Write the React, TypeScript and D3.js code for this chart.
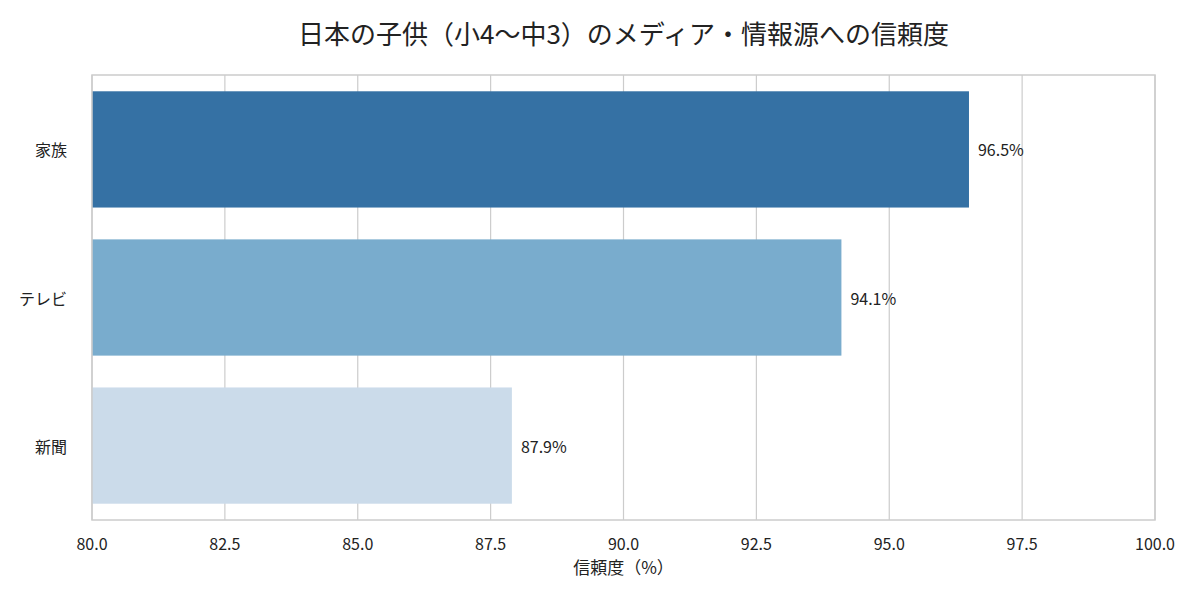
import { useEffect, useRef } from "react";
import * as d3 from "d3";

const categories = ["家族", "テレビ", "新聞"];
const values = [96.5, 94.1, 87.9];
const barColors = ["#3571a4", "#79accd", "#cbdbea"];
const xTicks = [80, 82.5, 85, 87.5, 90, 92.5, 95, 97.5, 100];

const W = 1200;
const H = 600;
const margin = { top: 75, right: 45, bottom: 80, left: 92 };
const FONT = "'Noto Sans CJK JP', 'Noto Sans', sans-serif";

const App = () => {
  const ref = useRef<SVGSVGElement>(null);

  useEffect(() => {
    if (!ref.current) return;
    const svg = d3.select(ref.current);
    svg.selectAll("*").remove();

    const x = d3.scaleLinear().domain([80, 100]).range([margin.left, W - margin.right]);
    const y = d3
      .scaleBand<string>()
      .domain(categories)
      .range([margin.top, H - margin.bottom])
      .paddingInner(0.215)
      .paddingOuter(0.11);

    svg.append("rect").attr("width", W).attr("height", H).attr("fill", "#fff");

    // grid
    svg
      .append("g")
      .selectAll("line")
      .data(xTicks)
      .enter()
      .append("line")
      .attr("x1", (d) => x(d))
      .attr("x2", (d) => x(d))
      .attr("y1", margin.top)
      .attr("y2", H - margin.bottom)
      .attr("stroke", "#cccccc")
      .attr("stroke-width", 1.2);

    // bars
    svg
      .append("g")
      .selectAll("rect")
      .data(categories)
      .enter()
      .append("rect")
      .attr("x", x(80))
      .attr("y", (d) => y(d)!)
      .attr("width", (_, i) => x(values[i]) - x(80))
      .attr("height", y.bandwidth())
      .attr("fill", (_, i) => barColors[i]);

    // value labels
    svg
      .append("g")
      .selectAll("text")
      .data(categories)
      .enter()
      .append("text")
      .attr("x", (_, i) => x(values[i]) + 9)
      .attr("y", (d) => y(d)! + y.bandwidth() / 2)
      .attr("dominant-baseline", "central")
      .attr("font-size", 16)
      .attr("font-family", FONT)
      .attr("fill", "#222")
      .text((_, i) => `${values[i].toFixed(1)}%`);

    // frame
    svg
      .append("rect")
      .attr("x", margin.left)
      .attr("y", margin.top)
      .attr("width", W - margin.right - margin.left)
      .attr("height", H - margin.bottom - margin.top)
      .attr("fill", "none")
      .attr("stroke", "#cccccc")
      .attr("stroke-width", 1.5);

    // x tick labels
    svg
      .append("g")
      .selectAll("text")
      .data(xTicks)
      .enter()
      .append("text")
      .attr("x", (d) => x(d))
      .attr("y", H - margin.bottom + 30)
      .attr("text-anchor", "middle")
      .attr("font-size", 16)
      .attr("font-family", FONT)
      .attr("fill", "#222")
      .text((d) => d.toFixed(1));

    // y tick labels
    svg
      .append("g")
      .selectAll("text")
      .data(categories)
      .enter()
      .append("text")
      .attr("x", margin.left - 25)
      .attr("y", (d) => y(d)! + y.bandwidth() / 2)
      .attr("text-anchor", "end")
      .attr("dominant-baseline", "central")
      .attr("font-size", 16)
      .attr("font-family", FONT)
      .attr("fill", "#222")
      .text((d) => d);

    // axis label
    svg
      .append("text")
      .attr("x", (margin.left + W - margin.right) / 2)
      .attr("y", H - margin.bottom + 54)
      .attr("text-anchor", "middle")
      .attr("font-size", 17)
      .attr("font-family", FONT)
      .attr("fill", "#222")
      .text("信頼度（%）");

    // title
    svg
      .append("text")
      .attr("x", (margin.left + W - margin.right) / 2)
      .attr("y", 44)
      .attr("text-anchor", "middle")
      .attr("font-size", 26)
      .attr("font-family", FONT)
      .attr("fill", "#222")
      .text("日本の子供（小4〜中3）のメディア・情報源への信頼度");
  }, []);

  return (
    <svg
      ref={ref}
      width={W}
      height={H}
      style={{ position: "absolute", left: 0, top: 0 }}
    ></svg>
  );
};

export default App;
